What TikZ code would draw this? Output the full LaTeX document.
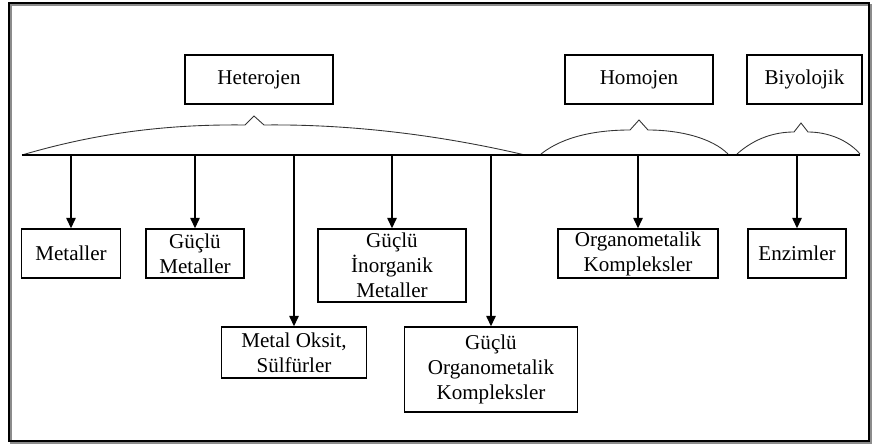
\documentclass[tikz,border=0pt]{standalone}
\usepackage{fontspec}
\setmainfont{Liberation Serif}
\usetikzlibrary{arrows.meta}

\begin{document}
\begin{tikzpicture}[x=0.02cm,y=-0.02cm,
  box/.style={draw,line width=0.8pt,align=center,inner sep=0pt,
    minimum height=0.98cm,font=\fontsize{12}{14.2}\selectfont},
  arr/.style={line width=0.9pt,-{Triangle[length=6pt,width=5.4pt]}},
  brace/.style={line width=0.5pt,draw=black!80}]
  \useasboundingbox (0,0) rectangle (872,445);
  % frame
  \draw[black!45,line width=1.2pt] (11,5) rectangle (871,443);
  \draw[line width=0.8pt] (9,3) rectangle (869,441);

  % upper boxes
  \node[box,minimum width=2.96cm] (het) at (259,79.5) {Heterojen};
  \node[box,minimum width=2.96cm] (hom) at (639,79.5) {Homojen};
  \node[box,minimum width=2.3cm] (biy) at (804.5,79.5) {Biyolojik};

  % braces
  \draw[brace] (22,155) .. controls (90,135) and (160,124) .. (245,125)
    -- (254,116) -- (264,125) .. controls (350,124) and (440,135) .. (525,155);
  \draw[brace] (541,154) .. controls (565,135) and (600,130) .. (630,130)
    -- (639,120) -- (648,130) .. controls (680,130) and (712,138) .. (728,154);
  \draw[brace] (737,154) .. controls (755,138) and (775,132) .. (794,132)
    -- (801,123) -- (808,132) .. controls (828,132) and (848,140) .. (860,154);

  % base line
  \coordinate (L) at (22,155);
  \coordinate (R) at (860,155);
  \draw[line width=1.1pt] (L) -- (R);

  % lower boxes
  \node[box,minimum width=1.98cm] (met) at (71,253.5) {Metaller};
  \node[box,minimum width=1.96cm] (gmet) at (195,253.5) {Güçlü\\Metaller};
  \node[box,minimum width=2.9cm,minimum height=1.02cm] (mos) at (294,352.5) {Metal Oksit,\\Sülfürler};
  \node[box,minimum width=2.96cm,minimum height=1.46cm] (ginm) at (392,265.5) {Güçlü\\İnorganik\\Metaller};
  \node[box,minimum width=3.46cm,minimum height=1.7cm] (gork) at (491,369.5) {Güçlü\\Organometalik\\Kompleksler};
  \node[box,minimum width=3.2cm] (ork) at (638,253.5) {Organometalik\\Kompleksler};
  \node[box,minimum width=1.96cm] (enz) at (797,253.5) {Enzimler};

  % arrows
  \coordinate (a1) at (71,155);
  \coordinate (a2) at (195,155);
  \coordinate (a3) at (294,155);
  \coordinate (a4) at (392,155);
  \coordinate (a5) at (491,155);
  \coordinate (a6) at (638,155);
  \coordinate (a7) at (797,155);
  \draw[arr] (a1) -- (met);
  \draw[arr] (a2) -- (gmet);
  \draw[arr] (a3) -- (mos);
  \draw[arr] (a4) -- (ginm);
  \draw[arr] (a5) -- (gork);
  \draw[arr] (a6) -- (ork);
  \draw[arr] (a7) -- (enz);
\end{tikzpicture}
\end{document}
